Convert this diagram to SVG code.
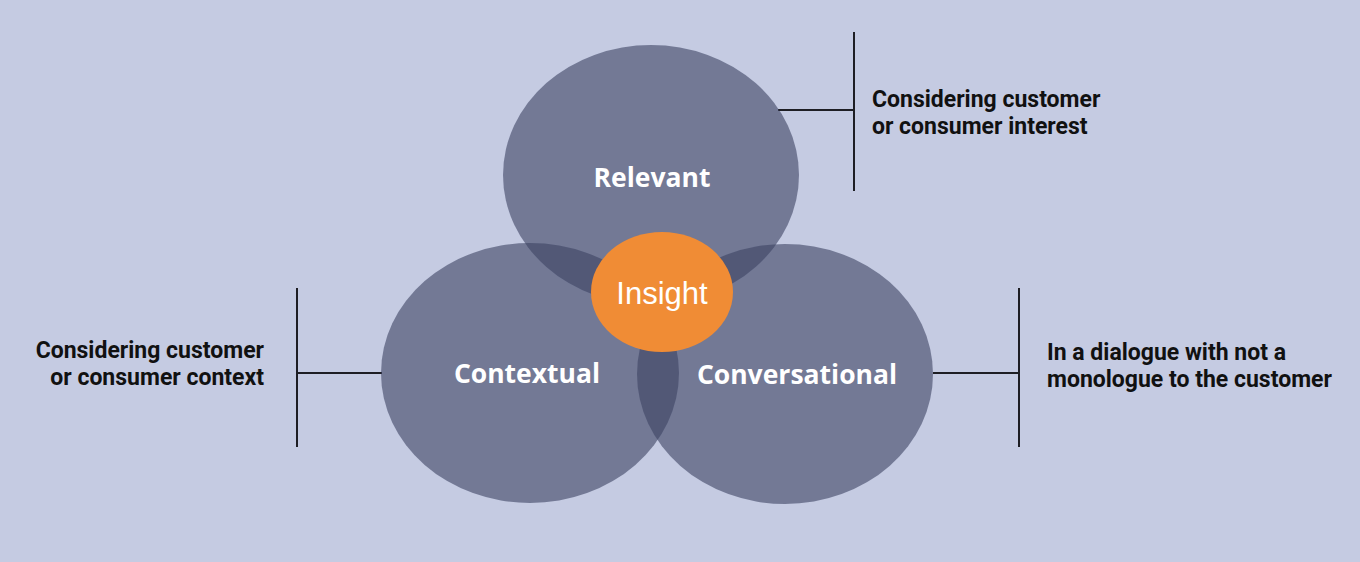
<svg xmlns="http://www.w3.org/2000/svg" width="1360" height="562" viewBox="0 0 1360 562">
<style>
.bg{fill:#c5cbe2}
.c{fill:rgb(60,66,99);fill-opacity:0.6}
.lbl{font-family:"Open Sans","DejaVu Sans",sans-serif;font-weight:700;font-size:26.5px;fill:#ffffff;text-anchor:middle}
.ins{font-family:"Liberation Sans",Arial,sans-serif;font-size:31px;fill:#ffffff;text-anchor:middle}
.note{font-family:Roboto,"Liberation Sans",sans-serif;font-weight:700;font-size:23px;fill:#111111}
.ln{stroke:#1e1e24;stroke-width:2;fill:none}
</style>
<rect class="bg" x="0" y="0" width="1360" height="562"/>
<g id="connectors">
<line class="ln" x1="778" y1="110" x2="854" y2="110"/>
<line class="ln" x1="854" y1="32" x2="854" y2="191"/>
<line class="ln" x1="297" y1="288" x2="297" y2="447"/>
<line class="ln" x1="297" y1="373" x2="382" y2="373"/>
<line class="ln" x1="1019" y1="288" x2="1019" y2="447"/>
<line class="ln" x1="933" y1="373" x2="1019" y2="373"/>
</g>
<g id="relevant">
<ellipse class="c" cx="651" cy="175" rx="148" ry="130"/>
<text class="lbl" x="652" y="187">Relevant</text>
</g>
<g id="contextual">
<ellipse class="c" cx="530" cy="373" rx="149" ry="130"/>
<text class="lbl" x="527" y="383">Contextual</text>
</g>
<g id="conversational">
<ellipse class="c" cx="785" cy="374" rx="148" ry="130"/>
<text class="lbl" x="797" y="384">Conversational</text>
</g>
<g id="insight">
<ellipse cx="662" cy="292" rx="71" ry="60" fill="#f08c35"/>
<text class="ins" x="662" y="304">Insight</text>
</g>
<g id="note-relevant">
<text class="note" x="872" y="107">Considering customer</text>
<text class="note" x="872" y="134">or consumer interest</text>
</g>
<g id="note-contextual">
<text class="note" x="264" y="358" text-anchor="end">Considering customer</text>
<text class="note" x="264" y="385" text-anchor="end">or consumer context</text>
</g>
<g id="note-conversational">
<text class="note" x="1047" y="360">In a dialogue with not a</text>
<text class="note" x="1047" y="387">monologue to the customer</text>
</g>
</svg>
